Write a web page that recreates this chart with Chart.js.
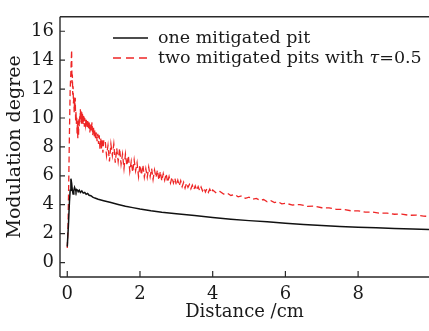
<!DOCTYPE html>
<html>
<head>
<meta charset="utf-8">
<script src="https://cdn.jsdelivr.net/npm/chart.js@4/dist/chart.umd.min.js"></script>
<style>
  html, body { margin: 0; padding: 0; background: #ffffff; }
  #wrap { width: 429px; height: 331px; position: relative; }
</style>
</head>
<body>
<div id="wrap"><canvas id="c" width="429" height="331"></canvas></div>
<script>
// ---- data ----
const seriesLabels = ["one mitigated pit", "two mitigated pits with \u03c4=0.5"];

const distanceBlack = [0.00,0.03,0.06,0.08,0.10,0.12,0.14,0.16,0.18,0.20,0.22,0.24,0.26,0.28,0.30,0.33,0.36,0.40,0.44,0.48,0.52,0.56,0.60,0.65,0.70,0.76,0.85,1.0,1.2,1.4,1.6,1.8,2.0,2.3,2.6,3.0,3.5,4.0,4.5,5.0,5.5,6.0,6.5,7.0,7.5,8.0,8.5,9.0,9.5,10.0];
const degreeBlack   = [1.1,2.5,4.2,5.0,5.8,5.5,5.0,4.75,5.0,5.2,5.05,4.9,5.05,5.0,4.9,5.0,4.85,4.95,4.8,4.85,4.72,4.78,4.65,4.62,4.52,4.46,4.38,4.28,4.15,4.02,3.9,3.8,3.7,3.58,3.48,3.38,3.26,3.12,3.0,2.9,2.82,2.72,2.64,2.57,2.5,2.45,2.4,2.36,2.32,2.28];

const distanceRed = [
  0.00,0.02,0.04,0.06,0.08,0.10,0.12,0.13,0.14,0.15,0.16,0.17,0.18,0.19,0.20,0.21,0.22,0.23,0.24,0.25,
  0.26,0.27,0.28,0.29,0.30,0.31,0.32,0.33,0.34,0.35,0.36,0.37,0.38,0.39,0.40,0.41,0.42,0.43,0.44,0.45,
  0.46,0.47,0.48,0.50,0.52,0.54,0.56,0.58,0.60,0.62,0.64,0.66,0.68,0.70,0.72,0.74,0.76,0.78,0.80,0.82,
  0.84,0.86,0.88,0.90,0.92,0.94,0.96,0.98,1.00,
  1.04,1.08,1.12,1.16,1.20,1.24,1.28,1.32,1.36,1.40,1.44,1.48,1.52,1.56,1.60,1.64,1.68,1.72,1.76,1.80,
  1.84,1.88,1.92,1.96,2.00,2.04,2.08,2.12,2.16,2.20,2.24,2.28,2.32,2.36,2.40,2.44,2.48,2.52,2.56,2.60,
  2.64,2.68,2.72,2.76,2.80,2.84,2.88,2.92,2.96,3.00,3.04,3.08,3.12,3.16,3.20,3.24,3.28,3.32,3.36,3.40,
  3.44,3.48,3.52,3.56,3.60,3.64,3.68,3.72,3.76,3.80,3.84,3.88,3.92,3.96,4.00,
  4.1,4.2,4.3,4.4,4.5,4.6,4.7,4.8,4.9,5.0,5.1,5.2,5.3,5.4,5.5,5.6,5.7,5.8,5.9,6.0,
  6.2,6.4,6.6,6.8,7.0,7.2,7.4,7.6,7.8,8.0,8.2,8.4,8.6,8.8,9.0,9.2,9.4,9.6,9.8,10.0
];
const degreeRed = [
  1.0,2.5,5.5,9.0,12.0,13.2,14.7,12.4,13.0,11.6,12.2,11.0,11.5,10.4,11.3,10.6,11.4,9.8,10.5,9.6,
  10.1,8.9,9.7,8.6,9.8,8.8,10.0,9.4,10.2,9.7,10.6,10.0,10.5,9.6,10.4,9.9,10.3,9.5,10.2,9.7,
  10.1,9.4,10.0,9.5,10.0,9.3,9.9,9.2,9.8,9.0,9.6,9.1,9.7,8.8,9.4,8.7,9.2,8.5,9.0,8.4,
  8.9,8.2,8.8,7.8,8.6,7.9,8.5,7.6,8.4,
  8.5,7.4,8.1,7.0,8.2,7.4,8.2,6.9,7.9,7.0,7.9,6.8,7.5,6.5,7.5,6.7,7.4,6.3,7.0,6.25,
  7.1,6.35,6.9,5.95,6.75,6.05,6.75,5.9,6.5,5.9,6.6,5.95,6.5,5.75,6.4,5.9,6.4,5.7,6.3,5.65,
  6.15,5.7,6.15,5.55,5.95,5.5,5.9,5.5,5.85,5.35,5.7,5.3,5.65,5.25,5.55,5.15,5.5,5.2,5.4,5.1,
  5.35,5.05,5.3,5.0,5.25,4.98,5.22,4.96,5.16,4.88,5.1,4.86,5.08,4.84,5.02,
  4.80,4.92,4.74,4.80,4.64,4.72,4.55,4.62,4.44,4.52,4.38,4.44,4.30,4.36,4.21,4.28,4.15,4.20,4.06,4.10,
  3.98,4.01,3.89,3.90,3.79,3.78,3.68,3.67,3.58,3.58,3.49,3.49,3.41,3.42,3.34,3.35,3.27,3.28,3.21,3.19
];

const xTickValues = [0, 2, 4, 6, 8];
const yTickValues = [0, 2, 4, 6, 8, 10, 12, 14, 16];
const xTitle = "Distance /cm";
const yTitle = "Modulation degree";

// ---- styles ----
const SERIF = "'DejaVu Serif', 'Liberation Serif', serif";
const RED = "rgb(238,38,38)";
const BLACK = "#111111";
const INK = "#1a1a1a";
const LEGEND_SIZE = 17.5;

function toPoints(xs, ys) { return xs.map((v, i) => ({ x: v, y: ys[i] })); }

const framePlugin = {
  id: 'frame',
  afterDraw(chart) {
    const { ctx, chartArea: { left, right, top, bottom }, scales: { x, y } } = chart;
    ctx.save();
    ctx.strokeStyle = '#2a2a2a';
    ctx.lineWidth = 1.4;
    ctx.beginPath();
    ctx.moveTo(left, top); ctx.lineTo(right, top);
    ctx.moveTo(left, top); ctx.lineTo(left, bottom);
    ctx.moveTo(left, bottom); ctx.lineTo(right, bottom);
    ctx.stroke();
    ctx.lineWidth = 1.2;
    ctx.beginPath();
    x.ticks.forEach(t => { const p = x.getPixelForValue(t.value); ctx.moveTo(p, bottom); ctx.lineTo(p, bottom - 6); });
    y.ticks.forEach(t => { const p = y.getPixelForValue(t.value); ctx.moveTo(left, p); ctx.lineTo(left + 5, p); });
    ctx.stroke();

    // legend inside plot
    const ds = chart.data.datasets;
    const rows = [38, 58];
    const lx0 = 113, lx1 = 148, tx = 158;
    const f = LEGEND_SIZE + "px " + SERIF;
    ctx.font = f;
    ctx.textBaseline = 'middle';
    ctx.fillStyle = INK;
    ds.forEach((d, i) => {
      const yy = rows[i];
      ctx.save();
      ctx.strokeStyle = d.borderColor;
      ctx.lineWidth = 1.6;
      ctx.setLineDash(i === 1 ? [8, 5] : []);
      ctx.beginPath(); ctx.moveTo(lx0, yy); ctx.lineTo(lx1, yy); ctx.stroke();
      ctx.restore();
      const lbl = d.label;
      const k = lbl.indexOf('\u03c4');
      if (k < 0) {
        ctx.fillText(lbl, tx, yy);
      } else {
        const a = lbl.slice(0, k), b = lbl.slice(k + 1);
        ctx.fillText(a, tx, yy);
        let cx = tx + ctx.measureText(a).width;
        ctx.font = "italic " + f;
        ctx.fillText('\u03c4', cx, yy);
        cx += ctx.measureText('\u03c4').width;
        ctx.font = f;
        ctx.fillText(b, cx, yy);
      }
    });
    ctx.restore();
  }
};

new Chart(document.getElementById('c'), {
  type: 'line',
  data: {
    datasets: [
      {
        label: seriesLabels[0],
        data: toPoints(distanceBlack, degreeBlack),
        borderColor: BLACK,
        borderWidth: 1.5,
        pointRadius: 0,
        tension: 0,
        fill: false
      },
      {
        label: seriesLabels[1],
        data: toPoints(distanceRed, degreeRed),
        borderColor: RED,
        borderWidth: 1.3,
        borderDash: [6, 3.5],
        pointRadius: 0,
        tension: 0,
        fill: false
      }
    ]
  },
  options: {
    responsive: false,
    animation: false,
    devicePixelRatio: 1,
    layout: { padding: { top: 5, right: 0, left: 0, bottom: 0 } },
    plugins: { legend: { display: false }, tooltip: { enabled: false } },
    scales: {
      x: {
        type: 'linear',
        min: -0.2,
        max: 9.95,
        afterBuildTicks(s) { s.ticks = xTickValues.map(v => ({ value: v })); },
        afterFit(s) { s.height = 54; },
        grid: { display: false, drawTicks: false },
        border: { display: false },
        ticks: { color: INK, font: { family: SERIF, size: 18 }, padding: 7, maxRotation: 0, autoSkip: false },
        title: { display: true, text: xTitle, color: INK, font: { family: SERIF, size: 18 }, padding: { top: 0, bottom: 8 } }
      },
      y: {
        type: 'linear',
        min: -1,
        max: 17,
        afterBuildTicks(s) { s.ticks = yTickValues.map(v => ({ value: v })); },
        afterFit(s) { s.width = 60; },
        grid: { display: false, drawTicks: false },
        border: { display: false },
        ticks: { color: INK, font: { family: SERIF, size: 18 }, padding: 6, autoSkip: false },
        title: { display: true, text: yTitle, color: INK, font: { family: SERIF, size: 19 }, padding: { top: 4, bottom: 0 } }
      }
    }
  },
  plugins: [framePlugin]
});
</script>
</body>
</html>
